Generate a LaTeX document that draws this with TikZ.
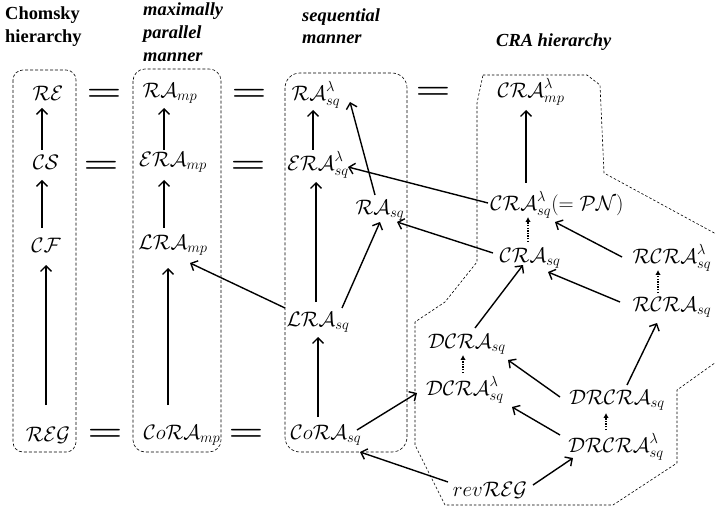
\RequirePackage{fix-cm}
\documentclass[tikz,border=0pt]{standalone}
\usepackage{graphicx}
\usepackage{fontspec}
\newfontfamily\hdrfont{Liberation Serif}
\usetikzlibrary{arrows.meta,calc}
\tikzset{
  lbl/.style={font=\fontsize{21}{25}\selectfont, inner sep=0pt},
  eqs/.style={font=\fontsize{20}{24}\selectfont, inner sep=0pt},
  hdr/.style={font=\hdrfont\bfseries\fontsize{18.5}{23}\selectfont, inner sep=0pt, anchor=base west},
  hdri/.style={font=\hdrfont\bfseries\itshape\fontsize{18.5}{23}\selectfont, inner sep=0pt, anchor=base west},
  arr/.style={line width=1.4pt, -{Straight Barb[length=5.5pt,width=11pt]}},
  darr/.style={line width=1.4pt, dash pattern=on 1.4pt off 1.2pt, -{Latex[length=5pt,width=5.5pt]}},
  grp/.style={dash pattern=on 3pt off 2pt, line width=0.6pt},
}
\newcommand{\eqsign}{\scalebox{2}[1.45]{\boldmath$=$}}
\begin{document}
\begin{tikzpicture}[x=1bp,y=-1bp]
\useasboundingbox (0,0) rectangle (715,511);
% group frames
\draw[grp, rounded corners=10] (13,70) rectangle (76,452);
\draw[grp, rounded corners=12] (133,69) rectangle (221,452);
\draw[grp, rounded corners=15] (285,73) rectangle (407,452);
\draw[grp, dash pattern=on 2.5pt off 2pt] (483,75) -- (587,75) -- (600,85) -- (604,173) -- (740,247) -- (740,345)
  -- (677,390) -- (677,463) -- (613,505) -- (445,505) -- (415,445) -- (415,322) -- (445,302)
  -- (477,262) -- (477,103) -- cycle;
% headers
\node[hdr] (h1a) at (5,20) {Chomsky};
\node[hdr] (h1b) at (5,43) {hierarchy};
\node[hdri] (h2a) at (143,16) {maximally};
\node[hdri] (h2b) at (143,39) {parallel};
\node[hdri] (h2c) at (143,62) {manner};
\node[hdri] (h3a) at (302,22) {sequential};
\node[hdri] (h3b) at (302,44) {manner};
\node[hdri] (h4) at (496,47) {CRA hierarchy};
% column 1
\node[lbl] (re) at (48,93) {$\mathcal{RE}$};
\node[lbl] (cs) at (46,162) {$\mathcal{CS}$};
\node[lbl] (cf) at (46,245) {$\mathcal{CF}$};
\node[lbl] (reg) at (48,435) {$\mathcal{REG}$};
% column 2
\node[lbl] (ramp) at (170,93) {$\mathcal{RA}_{mp}$};
\node[lbl] (eramp) at (173,162) {$\mathcal{ERA}_{mp}$};
\node[lbl] (lramp) at (173,245) {$\mathcal{LRA}_{mp}$};
\node[lbl] (coramp) at (182,435) {$\mathcal{C}o\mathcal{RA}_{mp}$};
% column 3
\node[lbl] (rasl) at (316,95) {$\mathcal{RA}^{\lambda}_{sq}$};
\node[lbl] (erasl) at (318,165) {$\mathcal{ERA}^{\lambda}_{sq}$};
\node[lbl] (rasq) at (380,210) {$\mathcal{RA}_{sq}$};
\node[lbl] (lrasq) at (318,322) {$\mathcal{LRA}_{sq}$};
\node[lbl] (corasq) at (326,435) {$\mathcal{C}o\mathcal{RA}_{sq}$};
% CRA hierarchy
\node[lbl] (cramp) at (531,92) {$\mathcal{CRA}^{\lambda}_{mp}$};
\node[lbl] (crasl) at (557,205) {$\mathcal{CRA}^{\lambda}_{sq}(=\mathcal{PN})$};
\node[lbl] (crasq) at (530,258) {$\mathcal{CRA}_{sq}$};
\node[lbl] (rcrasl) at (672,258) {$\mathcal{RCRA}^{\lambda}_{sq}$};
\node[lbl] (rcrasq) at (672,307) {$\mathcal{RCRA}_{sq}$};
\node[lbl] (dcrasq) at (467,344) {$\mathcal{DCRA}_{sq}$};
\node[lbl] (dcrasl) at (465,390) {$\mathcal{DCRA}^{\lambda}_{sq}$};
\node[lbl] (drcrasq) at (617,400) {$\mathcal{DRCRA}_{sq}$};
\node[lbl] (drcrasl) at (616,447) {$\mathcal{DRCRA}^{\lambda}_{sq}$};
\node[lbl] (revreg) at (490,490) {$rev\mathcal{REG}$};
% equality signs
\node[eqs] (q1) at (104,95) {\eqsign};
\node[eqs] (q2) at (101,167) {\eqsign};
\node[eqs] (q3) at (105,435) {\eqsign};
\node[eqs] (q4) at (249,95) {\eqsign};
\node[eqs] (q5) at (248,167) {\eqsign};
\node[eqs] (q6) at (246,435) {\eqsign};
\node[eqs] (q7) at (433,93) {\eqsign};
% arrows
\draw[arr] ($(cs)+(-4,-12)$) -- ($(re)+(-6,15)$);
\draw[arr] ($(cf)+(-4,-17)$) -- ($(cs)+(-4,18)$);
\draw[arr] ($(reg)+(-2,-30)$) -- ($(cf)+(0,20)$);
\draw[arr] ($(eramp)+(-9,-12)$) -- ($(ramp)+(-6,15)$);
\draw[arr] ($(lramp)+(-9,-17)$) -- ($(eramp)+(-9,18)$);
\draw[arr] ($(coramp)+(-14,-30)$) -- ($(lramp)+(-5,23)$);
\draw[arr] ($(erasl)+(-5,-15)$) -- ($(rasl)+(-3,15)$);
\draw[arr] ($(lrasq)+(-2,-20)$) -- ($(erasl)+(-2,17)$);
\draw[arr] ($(corasq)+(-8,-18)$) -- ($(lrasq)+(0,15)$);
\draw[arr] ($(lrasq)+(24,-14)$) -- ($(rasq)+(0,12)$);
\draw[arr] ($(rasq)+(-5,-15)$) -- ($(rasl)+(34,7)$);
\draw[arr] ($(lrasq)+(-33,-14)$) -- ($(lramp)+(17,18)$);
\draw[arr] ($(crasl)+(-31,-22)$) -- ($(cramp)+(-5,18)$);
\draw[darr] ($(crasq)+(-2,-16)$) -- ($(crasl)+(-29,12)$);
\draw[arr] ($(rcrasl)+(-50,-1)$) -- ($(crasl)+(-2,17)$);
\draw[arr] ($(rcrasq)+(-52,-5)$) -- ($(crasq)+(18,14)$);
\draw[darr] ($(rcrasq)+(-14,-14)$) -- ($(rcrasl)+(-14,12)$);
\draw[arr] ($(crasl)+(-69,-2)$) -- ($(erasl)+(30,2)$);
\draw[arr] ($(crasq)+(-37,-5)$) -- ($(rasq)+(17,12)$);
\draw[arr] ($(dcrasq)+(8,-16)$) -- ($(crasq)+(-7,7)$);
\draw[darr] ($(dcrasl)+(-2,-17)$) -- ($(dcrasq)+(-4,11)$);
\draw[arr] ($(drcrasq)+(-57,-3)$) -- ($(dcrasq)+(41,16)$);
\draw[arr] ($(drcrasl)+(-56,-12)$) -- ($(dcrasl)+(47,17)$);
\draw[arr] ($(drcrasq)+(10,-15)$) -- ($(rcrasq)+(-15,16)$);
\draw[darr] ($(drcrasl)+(-10,-17)$) -- ($(drcrasq)+(-11,13)$);
\draw[arr] ($(revreg)+(43,-5)$) -- ($(drcrasl)+(-43,11)$);
\draw[arr] ($(revreg)+(-42,-8)$) -- ($(corasq)+(34,17)$);
\draw[arr] ($(corasq)+(31,-5)$) -- ($(dcrasl)+(-48,3)$);
\end{tikzpicture}
\end{document}
